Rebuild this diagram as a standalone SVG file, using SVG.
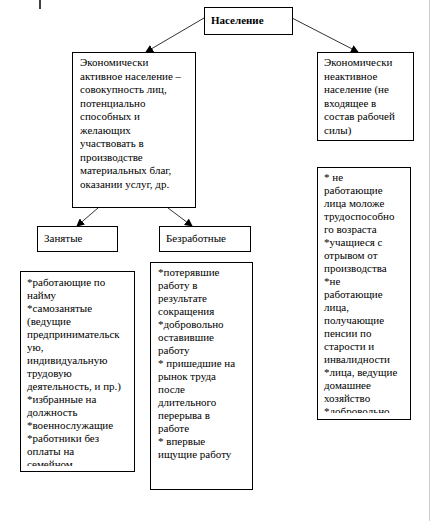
<svg xmlns="http://www.w3.org/2000/svg" width="433" height="521" viewBox="0 0 433 521">
<style>
.box{fill:#fff;stroke:#000;stroke-width:1}
text{font-family:'Liberation Serif','Times New Roman',Times,serif;font-size:11px;fill:#000}
.b{font-weight:bold}
.c{stroke:#333;stroke-width:1;fill:none}
</style>
<defs>
<marker id="ah" markerWidth="8" markerHeight="8" refX="7" refY="4" orient="auto" markerUnits="userSpaceOnUse">
<path d="M0,0 L8,4 L0,8 Z" fill="#000"/>
</marker>
<clipPath id="cl1"><rect x="20" y="271" width="114" height="195"/></clipPath>
<clipPath id="cl3"><rect x="317" y="167" width="93" height="246"/></clipPath>
</defs>
<rect width="433" height="521" fill="#fff"/>
<line x1="40" y1="0" x2="40" y2="9" stroke="#000" stroke-width="1.5"/>
<line x1="429.5" y1="0" x2="429.5" y2="521" stroke="#ccc" stroke-width="1"/>
<g id="connectors">
<line class="c" x1="204" y1="18" x2="146" y2="52" marker-end="url(#ah)"/>
<line class="c" x1="292" y1="18" x2="358" y2="52" marker-end="url(#ah)"/>
<line class="c" x1="98" y1="208" x2="77" y2="226" marker-end="url(#ah)"/>
<line class="c" x1="168" y1="208" x2="192" y2="226" marker-end="url(#ah)"/>
</g>
<g id="naselenie">
<rect class="box" x="204.5" y="7.5" width="88" height="27"/>
<text class="b" x="211" y="24" font-family="Liberation Serif, serif">Население</text>
</g>
<g id="active" font-family="Liberation Serif, serif">
<rect class="box" x="72.5" y="52.5" width="123" height="155"/>
<text x="80">
<tspan x="80" y="66">Экономически</tspan>
<tspan x="80" y="79.5">активное население –</tspan>
<tspan x="80" y="93">совокупность лиц,</tspan>
<tspan x="80" y="106.5">потенциально</tspan>
<tspan x="80" y="120">способных и</tspan>
<tspan x="80" y="133.5">желающих</tspan>
<tspan x="80" y="147">участвовать в</tspan>
<tspan x="80" y="160.5">производстве</tspan>
<tspan x="80" y="174">материальных благ,</tspan>
<tspan x="80" y="187.5">оказании услуг, др.</tspan>
</text>
</g>
<g id="inactive">
<rect class="box" x="317.5" y="52.5" width="96" height="88"/>
<text x="324">
<tspan x="324" y="66">Экономически</tspan>
<tspan x="324" y="79.5">неактивное</tspan>
<tspan x="324" y="93">население (не</tspan>
<tspan x="324" y="106.5">входящее в</tspan>
<tspan x="324" y="120">состав рабочей</tspan>
<tspan x="324" y="133.5">силы)</tspan>
</text>
</g>
<g id="employed">
<rect class="box" x="37.5" y="226.5" width="80" height="25"/>
<text x="44" y="242">Занятые</text>
</g>
<g id="unemployed">
<rect class="box" x="159.5" y="226.5" width="91" height="25"/>
<text x="166" y="242">Безработные</text>
</g>
<g id="employed-list">
<rect class="box" x="20.5" y="271.5" width="114" height="200"/>
<text clip-path="url(#cl1)">
<tspan x="27" y="286">*работающие по</tspan>
<tspan x="27" y="299">найму</tspan>
<tspan x="27" y="312">*самозанятые</tspan>
<tspan x="27" y="325">(ведущие</tspan>
<tspan x="27" y="338">предпринимательск</tspan>
<tspan x="27" y="351">ую,</tspan>
<tspan x="27" y="364">индивидуальную</tspan>
<tspan x="27" y="377">трудовую</tspan>
<tspan x="27" y="390">деятельность, и пр.)</tspan>
<tspan x="27" y="403">*избранные на</tspan>
<tspan x="27" y="416">должность</tspan>
<tspan x="27" y="429">*военнослужащие</tspan>
<tspan x="27" y="442">*работники без</tspan>
<tspan x="27" y="455">оплаты на</tspan>
<tspan x="27" y="468">семейном</tspan>
</text>
</g>
<g id="unemployed-list">
<rect class="box" x="150.5" y="262.5" width="102" height="227"/>
<text>
<tspan x="158" y="276">*потерявшие</tspan>
<tspan x="158" y="289">работу в</tspan>
<tspan x="158" y="302">результате</tspan>
<tspan x="158" y="315">сокращения</tspan>
<tspan x="158" y="328">*добровольно</tspan>
<tspan x="158" y="341">оставившие</tspan>
<tspan x="158" y="354">работу</tspan>
<tspan x="158" y="367">* пришедшие на</tspan>
<tspan x="158" y="380">рынок труда</tspan>
<tspan x="158" y="393">после</tspan>
<tspan x="158" y="406">длительного</tspan>
<tspan x="158" y="419">перерыва в</tspan>
<tspan x="158" y="432">работе</tspan>
<tspan x="158" y="445">* впервые</tspan>
<tspan x="158" y="458">ищущие работу</tspan>
</text>
</g>
<g id="inactive-list">
<rect class="box" x="317.5" y="167.5" width="93" height="252"/>
<text clip-path="url(#cl3)">
<tspan x="324" y="181">* не</tspan>
<tspan x="324" y="194">работающие</tspan>
<tspan x="324" y="207">лица моложе</tspan>
<tspan x="324" y="220">трудоспособно</tspan>
<tspan x="324" y="233">го возраста</tspan>
<tspan x="324" y="246">*учащиеся с</tspan>
<tspan x="324" y="259">отрывом от</tspan>
<tspan x="324" y="272">производства</tspan>
<tspan x="324" y="285">*не</tspan>
<tspan x="324" y="298">работающие</tspan>
<tspan x="324" y="311">лица,</tspan>
<tspan x="324" y="324">получающие</tspan>
<tspan x="324" y="337">пенсии по</tspan>
<tspan x="324" y="350">старости и</tspan>
<tspan x="324" y="363">инвалидности</tspan>
<tspan x="324" y="376">*лица, ведущие</tspan>
<tspan x="324" y="389">домашнее</tspan>
<tspan x="324" y="402">хозяйство</tspan>
<tspan x="324" y="415">*добровольно</tspan>
</text>
</g>
</svg>
